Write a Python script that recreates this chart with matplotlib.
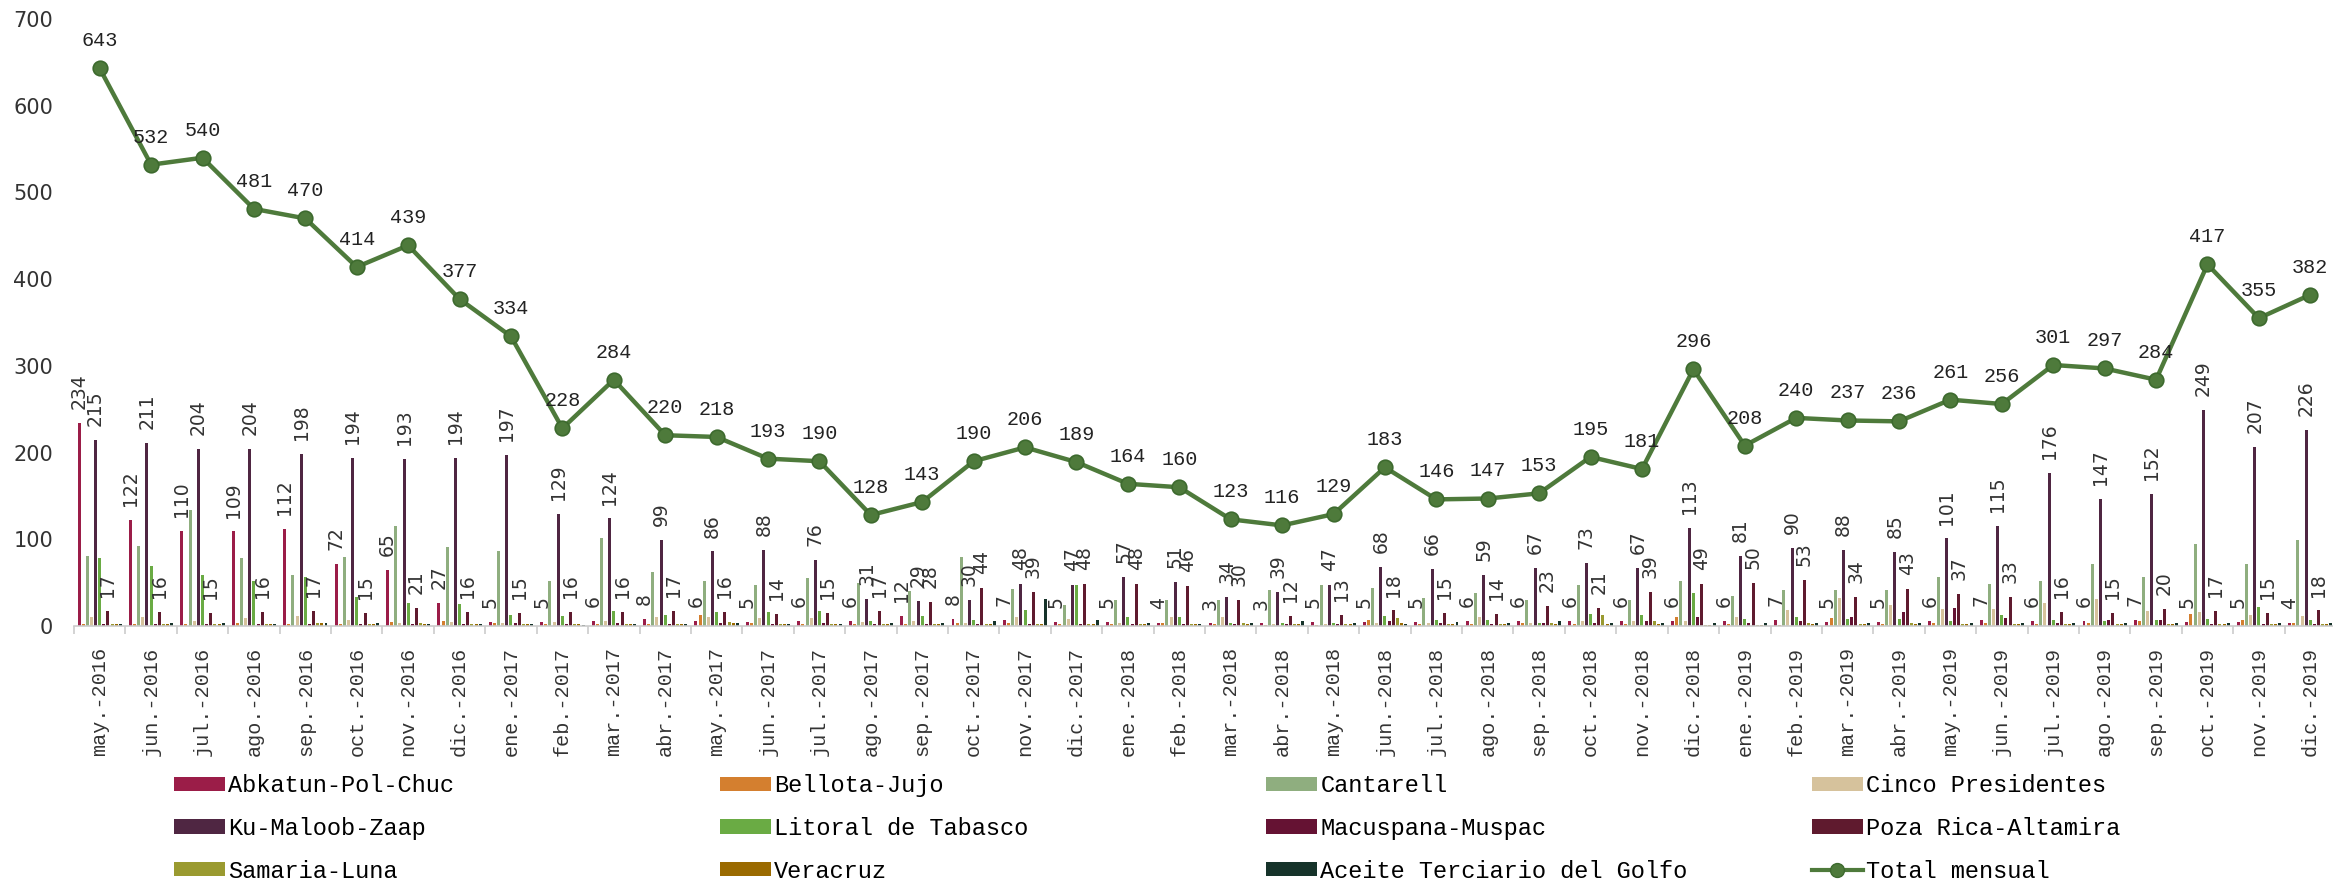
import numpy as np
import matplotlib.pyplot as plt
from matplotlib.patches import Patch
from matplotlib.lines import Line2D

months = ["may.-2016", "jun.-2016", "jul.-2016", "ago.-2016", "sep.-2016", "oct.-2016", "nov.-2016", "dic.-2016",
          "ene.-2017", "feb.-2017", "mar.-2017", "abr.-2017", "may.-2017", "jun.-2017", "jul.-2017", "ago.-2017",
          "sep.-2017", "oct.-2017", "nov.-2017", "dic.-2017",
          "ene.-2018", "feb.-2018", "mar.-2018", "abr.-2018", "may.-2018", "jun.-2018", "jul.-2018", "ago.-2018",
          "sep.-2018", "oct.-2018", "nov.-2018", "dic.-2018",
          "ene.-2019", "feb.-2019", "mar.-2019", "abr.-2019", "may.-2019", "jun.-2019", "jul.-2019", "ago.-2019",
          "sep.-2019", "oct.-2019", "nov.-2019", "dic.-2019"]

abkatun = [234, 122, 110, 109, 112, 72, 65, 27,
           5, 5, 6, 8, 6, 5, 6, 6, 12, 8, 7, 5,
           5, 4, 3, 3, 5, 5, 5, 6, 6, 6, 6, 6,
           6, 7, 5, 5, 6, 7, 6, 6, 7, 5, 5, 4]
bellota = [2, 2, 2, 3, 2, 2, 5, 6,
           3, 2, 2, 2, 13, 3, 2, 2, 2, 3, 4, 2,
           2, 3, 2, 1, 1, 7, 2, 2, 3, 2, 2, 10,
           2, 1, 9, 2, 4, 3, 2, 3, 6, 14, 7, 3]
cantarell = [81, 92, 134, 78, 59, 80, 115, 91,
             86, 52, 102, 62, 52, 47, 55, 50, 40, 80, 43, 24,
             30, 30, 30, 41, 47, 44, 32, 38, 30, 47, 30, 52,
             35, 41, 41, 41, 57, 49, 52, 71, 57, 94, 72, 99]
cinco = [10, 10, 6, 9, 12, 7, 4, 5,
         4, 5, 6, 10, 10, 9, 9, 5, 6, 4, 10, 8,
         3, 10, 10, 2, 2, 4, 4, 10, 3, 6, 6, 6,
         10, 19, 32, 24, 20, 20, 27, 31, 17, 16, 13, 12]
kmz = [215, 211, 204, 204, 198, 194, 193, 194,
       197, 129, 124, 99, 86, 88, 76, 31, 29, 30, 48, 47,
       57, 51, 34, 39, 47, 68, 66, 59, 67, 73, 67, 113,
       81, 90, 88, 85, 101, 115, 176, 147, 152, 249, 207, 226]
litoral = [78, 69, 59, 52, 57, 33, 26, 25,
           13, 12, 17, 13, 16, 16, 17, 6, 12, 7, 18, 47,
           10, 10, 4, 4, 4, 12, 7, 7, 4, 14, 13, 38,
           8, 10, 8, 8, 6, 13, 7, 6, 7, 8, 22, 7]
macuspana = [2, 2, 2, 2, 2, 2, 2, 2,
             4, 2, 3, 2, 4, 2, 3, 2, 2, 2, 2, 2,
             2, 2, 2, 2, 2, 6, 4, 2, 4, 4, 6, 10,
             3, 6, 10, 16, 21, 9, 4, 7, 7, 2, 2, 2]
poza_rica = [17, 16, 15, 16, 17, 15, 21, 16,
             15, 16, 16, 17, 16, 14, 15, 17, 28, 44, 39, 48,
             48, 46, 30, 12, 13, 18, 15, 14, 23, 21, 39, 49,
             50, 53, 34, 43, 37, 33, 16, 15, 20, 17, 15, 18]
samaria = [2, 2, 2, 2, 3, 2, 3, 2,
           2, 2, 2, 2, 5, 2, 2, 2, 2, 2, 2, 2,
           2, 2, 3, 2, 2, 9, 2, 2, 3, 13, 6, 1,
           1, 3, 2, 3, 2, 2, 2, 2, 2, 2, 2, 2]
veracruz = [2, 2, 2, 2, 3, 2, 2, 2,
            2, 2, 2, 2, 3, 2, 2, 2, 2, 2, 2, 2,
            2, 2, 2, 2, 2, 3, 2, 2, 2, 2, 2, 1,
            1, 2, 2, 2, 2, 2, 2, 2, 2, 2, 2, 2]
aceite = [2, 4, 3, 2, 4, 3, 2, 2,
          2, 1, 2, 2, 3, 2, 2, 4, 4, 6, 31, 7,
          4, 2, 4, 6, 4, 2, 5, 4, 6, 3, 3, 3,
          4, 4, 4, 4, 4, 3, 4, 4, 4, 4, 4, 4]
total = [643, 532, 540, 481, 470, 414, 439, 377,
         334, 228, 284, 220, 218, 193, 190, 128, 143, 190, 206, 189,
         164, 160, 123, 116, 129, 183, 146, 147, 153, 195, 181, 296,
         208, 240, 237, 236, 261, 256, 301, 297, 284, 417, 355, 382]

series = [
    ("Abkatun-Pol-Chuc", abkatun, "#9b1d48", True),
    ("Bellota-Jujo", bellota, "#d47f2f", False),
    ("Cantarell", cantarell, "#8fae7f", False),
    ("Cinco Presidentes", cinco, "#d6c29c", False),
    ("Ku-Maloob-Zaap", kmz, "#4f2642", True),
    ("Litoral de Tabasco", litoral, "#6aab44", False),
    ("Macuspana-Muspac", macuspana, "#651233", False),
    ("Poza Rica-Altamira", poza_rica, "#5f1a2e", True),
    ("Samaria-Luna", samaria, "#9a9a30", False),
    ("Veracruz", veracruz, "#9a6a00", False),
    ("Aceite Terciario del Golfo", aceite, "#16332a", False),
]
line_color = "#4e7a3b"

fig = plt.figure(figsize=(23.33, 8.82), dpi=100)
ax = fig.add_axes([74 / 2333, 1 - 626 / 882, 2262 / 2333, (626 - 19) / 882])

x = np.arange(len(months))
step = 0.0804
width = 0.058
for i, (name, vals, color, labelled) in enumerate(series):
    bars = ax.bar(x + (i - 5) * step, vals, width=width, color=color, zorder=2)
    if labelled:
        ax.bar_label(bars, padding=10, rotation=90, fontsize=13.5, color="#333333",
                     family="DejaVu Sans")

ax.plot(x, total, color=line_color, lw=3.2, marker="o", markersize=10.5,
        markerfacecolor=line_color, markeredgecolor="#3d6a2e", markeredgewidth=1.2, zorder=4)
for xi, t in zip(x, total):
    ax.annotate(str(t), (xi, t), xytext=(0, 13), textcoords="offset points",
                ha="center", va="bottom", fontsize=14.5, family="Liberation Mono",
                color="#222222", zorder=5)

ax.set_xlim(-0.5, len(months) - 0.5)
ax.set_ylim(0, 700)
ax.set_yticks(range(0, 701, 100))
ax.tick_params(axis="y", length=0, pad=15, labelsize=15, labelcolor="#333333")
ax.set_xticks(x)
ax.set_xticklabels(months, rotation=90, family="Liberation Mono", fontsize=14.5, color="#333333")
ax.set_xticks(np.arange(len(months) + 1) - 0.5, minor=True)
ax.tick_params(axis="x", which="major", length=0, pad=15)
ax.tick_params(axis="x", which="minor", length=6, color="#cccccc", width=1.2)
for side in ["top", "right", "left"]:
    ax.spines[side].set_visible(False)
ax.spines["bottom"].set_color("#cccccc")
ax.spines["bottom"].set_linewidth(1.2)

# legend laid out row by row in four fixed columns
handles = [Patch(facecolor=c, edgecolor="none") for _, _, c, _ in series]
handles.append(Line2D([], [], color=line_color, lw=3, marker="o", markersize=10,
                      markerfacecolor=line_color, markeredgecolor="#3d6a2e"))
labels = [s[0] for s in series] + ["Total mensual"]
col_x = [174, 720, 1266, 1812]
for c in range(4):
    idx = [c, c + 4, c + 8]
    fig.legend([handles[i] for i in idx], [labels[i] for i in idx],
               loc="upper left", bbox_to_anchor=(col_x[c] / 2333, 1 - 774 / 882),
               frameon=False, ncol=1, borderpad=0, borderaxespad=0,
               prop={"family": "Liberation Mono", "size": 17},
               handlelength=2.15, handleheight=0.55, handletextpad=0.15, labelspacing=0.84)

fig.savefig("out.png", dpi=100)
